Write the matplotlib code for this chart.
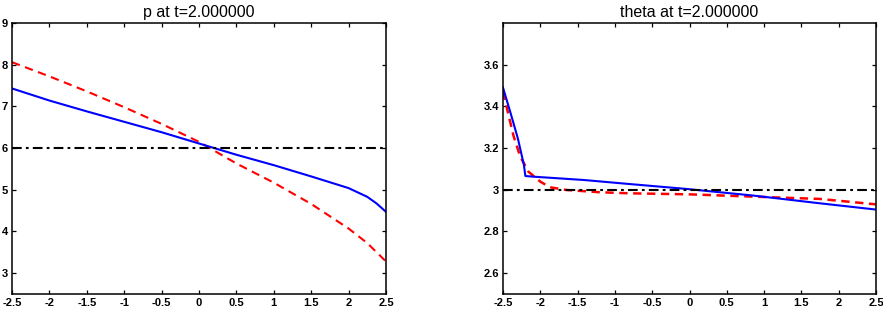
import numpy as np
import matplotlib
matplotlib.use("Agg")
import matplotlib.pyplot as plt

plt.rcParams['font.family'] = ['Liberation Sans', 'DejaVu Sans']
plt.rcParams['lines.scale_dashes'] = False

# p at t=2
p_x_blue = [-2.5, -2.0, -1.5, -1.0, -0.5, 0.0, 0.5, 1.0, 1.5, 2.0, 2.25, 2.375, 2.5]
p_blue = [7.43, 7.14, 6.88, 6.63, 6.38, 6.11, 5.84, 5.59, 5.32, 5.04, 4.83, 4.67, 4.47]
p_x_red = [-2.5, -2.0, -1.5, -1.0, -0.5, 0.0, 0.5, 1.0, 1.5, 2.0, 2.25, 2.5]
p_red = [8.06, 7.72, 7.36, 6.98, 6.58, 6.15, 5.63, 5.17, 4.66, 4.07, 3.72, 3.28]
p_ref = 6.0

# theta at t=2
th_x_blue = [-2.5, -2.4, -2.3, -2.22, -2.2, -2.1, -1.42, -0.82, -0.04, 0.86, 1.75, 2.5]
th_blue = [3.49, 3.37, 3.245, 3.12, 3.066, 3.063, 3.047, 3.028, 3.004, 2.972, 2.935, 2.905]
th_x_red = [-2.5, -2.36, -2.27, -2.16, -2.0, -1.87, -1.65, -1.2, -0.8, 0.0, 0.86, 1.75, 2.5]
th_red = [3.47, 3.26, 3.16, 3.087, 3.039, 3.012, 2.999, 2.988, 2.983, 2.978, 2.967, 2.956, 2.93]
th_ref = 3.0

xticks = [-2.5, -2, -1.5, -1, -0.5, 0, 0.5, 1, 1.5, 2, 2.5]
xlabels = ['-2.5', '-2', '-1.5', '-1', '-0.5', '0', '0.5', '1', '1.5', '2', '2.5']
p_yticks = [3, 4, 5, 6, 7, 8, 9]
th_yticks = [2.6, 2.8, 3.0, 3.2, 3.4, 3.6]
th_ylabels = ['2.6', '2.8', '3', '3.2', '3.4', '3.6']

fig = plt.figure(figsize=(8.83, 3.12), dpi=100)
W, H = 883, 312
ax1 = fig.add_axes([12 / W, 1 - 294 / H, 374 / W, 271 / H])
ax2 = fig.add_axes([503 / W, 1 - 294 / H, 373 / W, 271 / H])


def style(ax, title):
    ax.set_xlim(-2.5, 2.5)
    ax.set_xticks(xticks)
    ax.set_xticklabels(xlabels)
    ax.tick_params(direction='in', length=3, width=0.9, top=True, right=True,
                   labelsize=8, pad=3)
    for lab in ax.get_xticklabels() + ax.get_yticklabels():
        lab.set_fontweight('bold')
    for s in ax.spines.values():
        s.set_linewidth(1.1)
    ax.set_title(title, fontsize=11.5, pad=4)


ax1.plot(p_x_red, p_red, color='red', lw=1.5, dashes=(6, 4))
ax1.plot(p_x_blue, p_blue, color='blue', lw=1.5)
ax1.axhline(p_ref, color='black', lw=1.5, dashes=(7, 3, 2, 3))
ax1.set_ylim(2.5, 9)
ax1.set_yticks(p_yticks)
style(ax1, 'p at t=2.000000')

ax2.plot(th_x_red, th_red, color='red', lw=1.8, dashes=(6, 4))
ax2.plot(th_x_blue, th_blue, color='blue', lw=1.5)
ax2.axhline(th_ref, color='black', lw=1.5, dashes=(7, 3, 2, 3))
ax2.set_ylim(2.5, 3.8)
ax2.set_yticks(th_yticks)
ax2.set_yticklabels(th_ylabels)
style(ax2, 'theta at t=2.000000')

fig.savefig('out.png', dpi=100)
